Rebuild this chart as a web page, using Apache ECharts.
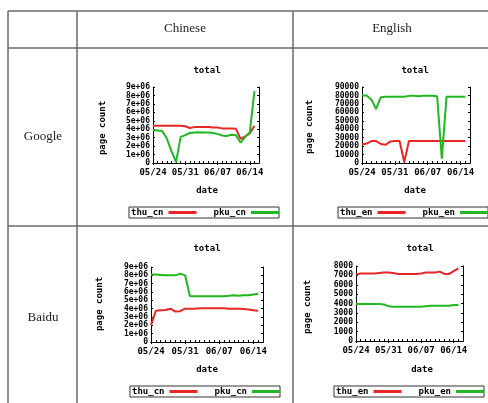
<!DOCTYPE html>
<html>
<head>
<meta charset="utf-8">
<script src="https://cdn.jsdelivr.net/npm/echarts@6.0.0/dist/echarts.min.js"></script>
<style>
  html, body { margin: 0; padding: 0; background: #fff; }
  #main { width: 488px; height: 403px; }
</style>
</head>
<body>
<div id="main"></div>
<script>
// x axis days
const dates = ['05/24', '05/25', '05/26', '05/27', '05/28', '05/29', '05/30', '05/31',
  '06/01', '06/02', '06/03', '06/04', '06/05', '06/06', '06/07', '06/08', '06/09',
  '06/10', '06/11', '06/12', '06/13', '06/14', '06/15', '06/16'];

// Google, Chinese
const thuCnGoogle = [4.4e6, 4.4e6, 4.4e6, 4.4e6, 4.4e6, 4.4e6, 4.4e6, 4.35e6, 4.15e6, 4.25e6, 4.25e6,
  4.25e6, 4.25e6, 4.2e6, 4.2e6, 4.1e6, 4.1e6, 4.1e6, 4.05e6, 2.85e6, 3.15e6, 3.5e6, 4.4e6];
const pkuCnGoogle = [3.9e6, 3.85e6, 3.8e6, 2.9e6, 1.4e6, 0.1e6, 3.1e6, 3.3e6, 3.55e6, 3.6e6, 3.65e6,
  3.6e6, 3.6e6, 3.55e6, 3.45e6, 3.25e6, 3.2e6, 3.35e6, 3.3e6, 2.4e6, 3.1e6, 3.6e6, 8.5e6];

// Google, English
const thuEnGoogle = [22000, 23000, 26000, 26000, 22500, 21500, 25500, 26000, 26000, 1000, 26000,
  26000, 26000, 26000, 26000, 26000, 26000, 26000, 26000, 26000, 26000, 26000, 26000];
const pkuEnGoogle = [80000, 80000, 75000, 64000, 78000, 78500, 78500, 78500, 78500, 78500, 79500,
  79500, 79000, 79500, 79500, 79500, 79000, 5000, 78500, 78500, 78500, 78500, 78500];

// Baidu, Chinese
const thuCnBaidu = [2.0e6, 3.75e6, 3.8e6, 3.85e6, 4.0e6, 3.65e6, 3.7e6, 4.0e6, 4.0e6, 4.0e6, 4.05e6,
  4.05e6, 4.05e6, 4.05e6, 4.05e6, 4.05e6, 4.0e6, 4.0e6, 4.0e6, 3.95e6, 3.9e6, 3.8e6, 3.75e6];
const pkuCnBaidu = [8.1e6, 8.1e6, 8.05e6, 8.0e6, 8.0e6, 8.0e6, 8.2e6, 8.0e6, 5.5e6, 5.5e6, 5.5e6,
  5.5e6, 5.5e6, 5.5e6, 5.5e6, 5.5e6, 5.55e6, 5.6e6, 5.55e6, 5.6e6, 5.6e6, 5.7e6, 5.8e6];

// Baidu, English
const thuEnBaidu = [7100, 7200, 7200, 7200, 7200, 7250, 7300, 7300, 7250, 7150, 7150,
  7150, 7150, 7150, 7200, 7300, 7300, 7300, 7400, 7150, 7150, 7450, 7750];
const pkuEnBaidu = [3950, 3950, 3950, 3950, 3950, 3950, 3900, 3700, 3650, 3650, 3650,
  3650, 3650, 3650, 3650, 3700, 3750, 3750, 3750, 3750, 3750, 3850, 3850];

// y tick labels
const yLabelsCn = ['0', '1e+06', '2e+06', '3e+06', '4e+06', '5e+06', '6e+06', '7e+06', '8e+06', '9e+06'];
const yLabelsEnGoogle = ['0', '10000', '20000', '30000', '40000', '50000', '60000', '70000', '80000', '90000'];
const yLabelsEnBaidu = ['0', '1000', '2000', '3000', '4000', '5000', '6000', '7000', '8000'];

const mono = 'DejaVu Sans Mono';
const red = '#e82626';
const green = '#20b820';

const panels = [
  { grid: [153, 87, 106, 76], interval: 1e6, labels: yLabelsCn, names: ['thu_cn', 'pku_cn'],
    data: [thuCnGoogle, pkuCnGoogle], title: [207, 71], date: [207, 191], ylab: [103, 128], legend: [129, 207] },
  { grid: [362, 87, 108, 76], interval: 10000, labels: yLabelsEnGoogle, names: ['thu_en', 'pku_en'],
    data: [thuEnGoogle, pkuEnGoogle], title: [415, 71], date: [415, 191], ylab: [310, 127], legend: [338, 207] },
  { grid: [151, 267, 112, 75], interval: 1e6, labels: yLabelsCn, names: ['thu_cn', 'pku_cn'],
    data: [thuCnBaidu, pkuCnBaidu], title: [207, 249], date: [207, 370], ylab: [100, 304], legend: [130, 386] },
  { grid: [356, 266, 107, 75], interval: 1000, labels: yLabelsEnBaidu, names: ['thu_en', 'pku_en'],
    data: [thuEnBaidu, pkuEnBaidu], title: [420, 249], date: [422, 370], ylab: [308, 307], legend: [334, 386] }
];

const grids = [], xAxes = [], yAxes = [], series = [], legends = [], texts = [];

panels.forEach(function (p, i) {
  grids.push({ left: p.grid[0], top: p.grid[1], width: p.grid[2], height: p.grid[3] });
  const maxVal = p.interval * (p.labels.length - 1);
  const tickStyle = { show: true, inside: true, length: 2, lineStyle: { color: '#000' } };
  // bottom + mirrored top
  xAxes.push({
    type: 'category', gridIndex: i, data: dates, boundaryGap: false,
    axisLine: { lineStyle: { color: '#000', width: 1 } },
    axisTick: Object.assign({ interval: 0 }, tickStyle),
    axisLabel: {
      interval: function (idx) { return idx % 7 === 0; },
      margin: 5, fontFamily: mono, fontWeight: 'bold', fontSize: 9, color: '#000'
    }
  });
  xAxes.push({
    type: 'category', gridIndex: i, data: dates, boundaryGap: false, position: 'top',
    axisLine: { lineStyle: { color: '#000', width: 1 } },
    axisTick: Object.assign({ interval: function (idx) { return idx % 7 === 0; } }, tickStyle),
    axisLabel: { show: false }
  });
  yAxes.push({
    type: 'value', gridIndex: i, min: 0, max: maxVal, interval: p.interval,
    splitLine: { show: false },
    axisLine: { show: true, lineStyle: { color: '#000', width: 1 } },
    axisTick: tickStyle,
    axisLabel: {
      margin: 3, fontFamily: mono, fontWeight: 'bold', fontSize: 8, color: '#000',
      formatter: function (v) { return p.labels[Math.round(v / p.interval)]; }
    }
  });
  yAxes.push({
    type: 'value', gridIndex: i, min: 0, max: maxVal, interval: p.interval, position: 'right',
    splitLine: { show: false },
    axisLine: { show: true, lineStyle: { color: '#000', width: 1 } },
    axisTick: tickStyle,
    axisLabel: { show: false }
  });
  [red, green].forEach(function (c, k) {
    series.push({
      type: 'line', name: p.names[k], xAxisIndex: i * 2, yAxisIndex: i * 2,
      data: p.data[k], showSymbol: false, color: c,
      lineStyle: { color: c, width: 2 }
    });
  });
  legends.push({
    data: p.names, left: p.legend[0], top: p.legend[1], width: 160, orient: 'horizontal', align: 'right',
    icon: 'rect', itemWidth: 28, itemHeight: 3, itemGap: 17,
    padding: [1, 0, 1, 2], borderColor: '#333', borderWidth: 1,
    textStyle: { fontFamily: mono, fontWeight: 'bold', fontSize: 9, color: '#000' }
  });
  texts.push({ type: 'text', x: p.title[0], y: p.title[1],
    style: { text: 'total', font: 'bold 9px "DejaVu Sans Mono"', fill: '#000', align: 'center', verticalAlign: 'middle' } });
  texts.push({ type: 'text', x: p.date[0], y: p.date[1],
    style: { text: 'date', font: 'bold 9px "DejaVu Sans Mono"', fill: '#000', align: 'center', verticalAlign: 'middle' } });
  texts.push({ type: 'text', x: p.ylab[0], y: p.ylab[1], rotation: Math.PI / 2,
    style: { text: 'page count', font: 'bold 9px "DejaVu Sans Mono"', fill: '#000', align: 'center', verticalAlign: 'middle' } });
});

// table frame
const lineStyle = { stroke: '#6a6a6a', lineWidth: 1.5 };
const tableLines = [
  [8, 11, 8, 403], [77, 11, 77, 403], [293, 11, 293, 403],
  [8, 11, 488, 11], [8, 48, 488, 48], [8, 226, 488, 226]
].map(function (l) {
  return { type: 'line', shape: { x1: l[0], y1: l[1], x2: l[2], y2: l[3] }, style: lineStyle, silent: true };
});

const cellText = [['Chinese', 185, 29], ['English', 392, 29], ['Google', 43, 137], ['Baidu', 43, 318]].map(function (t) {
  return { type: 'text', x: t[1], y: t[2],
    style: { text: t[0], font: '13px "Liberation Serif"', fill: '#222', align: 'center', verticalAlign: 'middle' } };
});

const chart = echarts.init(document.getElementById('main'));
chart.setOption({
  animation: false,
  backgroundColor: '#fff',
  grid: grids,
  xAxis: xAxes,
  yAxis: yAxes,
  legend: legends,
  series: series,
  graphic: tableLines.concat(cellText, texts)
});
</script>
</body>
</html>
